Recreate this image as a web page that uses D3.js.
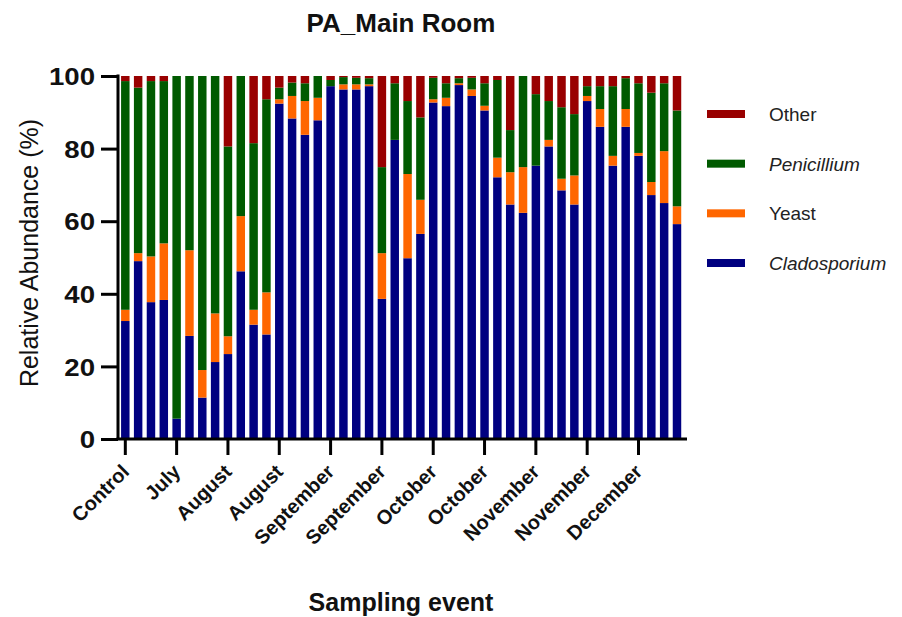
<!DOCTYPE html>
<html>
<head>
<meta charset="utf-8">
<script src="https://cdn.jsdelivr.net/npm/d3@7"></script>
<style>
  html, body { margin: 0; padding: 0; background: #fff; }
  svg { display: block; font-family: "Liberation Sans", Arial, sans-serif; }
</style>
</head>
<body>
<svg id="chart" width="902" height="617"></svg>
<script>
// Relative abundance (%) per sampling event, PA main room
const cladosporium = [32.5, 49.0, 37.7, 38.3, 5.6, 28.4, 11.4, 21.2, 23.4, 46.2, 31.5, 28.8,
  92.4, 88.3, 83.8, 87.8, 97.2, 96.3, 96.3, 97.2, 38.6, 82.4, 49.8, 56.5,
  92.7, 91.7, 97.5, 94.5, 90.5, 72.1, 64.6, 62.3, 75.3, 80.6, 68.5, 64.6,
  93.1, 86.0, 75.3, 86.0, 78.0, 67.2, 65.0, 59.2];
const yeast = [3.1, 2.2, 12.6, 15.6, 0, 23.6, 7.6, 13.4, 4.9, 15.2, 4.1, 11.6,
  1.2, 6.2, 9.3, 6.2, 0, 1.4, 1.4, 0.5, 12.6, 0, 23.2, 9.4,
  0.9, 2.3, 0.5, 1.8, 1.3, 5.4, 8.9, 12.6, 0, 1.8, 3.2, 8.0,
  1.4, 4.9, 2.7, 4.9, 0.8, 3.6, 14.3, 4.9];
const penicillium = [63.0, 45.6, 48.3, 44.7, 94.4, 48.0, 81.0, 65.4, 52.3, 38.6, 45.9, 53.2,
  3.2, 3.7, 4.9, 6.0, 1.7, 2.0, 1.8, 1.7, 23.7, 15.6, 20.1, 22.7,
  5.9, 4.0, 1.4, 3.2, 6.2, 21.4, 11.6, 25.1, 19.7, 10.7, 19.7, 16.9,
  2.7, 6.3, 19.2, 8.5, 19.2, 24.6, 18.7, 26.4];
const other = [1.4, 3.2, 1.4, 1.4, 0, 0, 0, 0, 19.4, 0, 18.5, 6.4,
  3.2, 1.8, 2.0, 0, 1.1, 0.3, 0.5, 0.6, 25.1, 2.0, 6.9, 11.4,
  0.5, 2.0, 0.6, 0.5, 2.0, 1.1, 14.9, 0, 5.0, 6.9, 8.6, 10.5,
  2.8, 2.8, 2.8, 0.6, 2.0, 4.6, 2.0, 9.5];

// Labelled sampling events (one label every 4 events)
const tickLabels = ["Control", "July", "August", "August", "September", "September",
  "October", "October", "November", "November", "December"];
const labelEvery = 4;
const yTicks = [0, 20, 40, 60, 80, 100];

const taxa = ["Cladosporium", "Yeast", "Penicillium", "Other"];
const taxaValues = [cladosporium, yeast, penicillium, other];
const taxaColors = ["#000080", "#ff6600", "#005a00", "#990000"];
const italicTaxa = ["Cladosporium", "Penicillium"];

const events = d3.range(cladosporium.length);
const table = events.map(i => {
  const row = { event: i };
  taxa.forEach((t, k) => { row[t] = taxaValues[k][i]; });
  return row;
});

const svg = d3.select("#chart");

const axisLeftX = 118, axisRightX = 687;
const y0 = 439, y1 = 76;

const x = d3.scaleBand()
  .domain(events)
  .range([axisLeftX, 684.3])
  .paddingInner(0.34)
  .paddingOuter(0.24);

const y = d3.scaleLinear().domain([0, 100]).range([y0, y1]);

const stack = d3.stack().keys(taxa);
const series = stack(table);

const color = d3.scaleOrdinal().domain(taxa).range(taxaColors);

// stacked bars
svg.append("g")
  .selectAll("g")
  .data(series)
  .join("g")
  .attr("fill", d => color(d.key))
  .selectAll("rect")
  .data(d => d)
  .join("rect")
  .attr("x", d => x(d.data.event))
  .attr("width", x.bandwidth())
  .attr("y", d => y(d[1]))
  .attr("height", d => Math.max(0, y(d[0]) - y(d[1])));

// y axis
const yAxis = svg.append("g")
  .attr("transform", `translate(${axisLeftX},0)`)
  .call(d3.axisLeft(y).tickValues(yTicks).tickSize(17).tickPadding(5));
yAxis.select(".domain").attr("stroke-width", 3).attr("d", `M0,${y1 - 1.5}V${y0}`);
yAxis.selectAll(".tick line").attr("stroke-width", 3);
yAxis.selectAll(".tick text")
  .attr("font-size", 24)
  .attr("font-weight", "bold")
  .attr("fill", "#111")
  .attr("x", -20)
  .attr("dy", "0.36em")
  .attr("transform", "scale(1.15,1)");

// x axis with labels on every 4th event
const tickEvents = events.filter(i => i % labelEvery === 0);
const xAxis = svg.append("g")
  .attr("transform", `translate(0,${y0})`)
  .call(d3.axisBottom(x).tickValues(tickEvents).tickSize(16)
    .tickFormat(i => tickLabels[i / labelEvery]));
xAxis.select(".domain").remove();
xAxis.append("line")
  .attr("x1", axisLeftX - 1.5).attr("x2", axisRightX)
  .attr("stroke", "#000").attr("stroke-width", 3);
xAxis.selectAll(".tick line").attr("stroke-width", 3);
xAxis.selectAll(".tick text")
  .attr("font-size", 20)
  .attr("font-weight", "bold")
  .attr("fill", "#111")
  .attr("text-anchor", "end")
  .attr("dy", null)
  .attr("y", null)
  .attr("transform", "translate(5,34) rotate(-45)");

// titles
svg.append("text")
  .attr("x", 401).attr("y", 32)
  .attr("text-anchor", "middle")
  .attr("font-size", 26).attr("font-weight", "bold").attr("fill", "#111")
  .text("PA_Main Room");

svg.append("text")
  .attr("x", 401).attr("y", 611)
  .attr("text-anchor", "middle")
  .attr("font-size", 25).attr("font-weight", "bold").attr("fill", "#111")
  .text("Sampling event");

svg.append("text")
  .attr("transform", "translate(38,253) rotate(-90)")
  .attr("text-anchor", "middle")
  .attr("font-size", 25).attr("fill", "#111")
  .text("Relative Abundance (%)");

// legend, top entry is the top of the stack
const legendTaxa = taxa.slice().reverse();
const legend = svg.append("g");
const legendY = d3.scalePoint().domain(legendTaxa).range([114, 263]);
const item = legend.selectAll("g")
  .data(legendTaxa)
  .join("g")
  .attr("transform", d => `translate(0,${legendY(d)})`);
item.append("rect")
  .attr("x", 707).attr("y", -4)
  .attr("width", 38).attr("height", 8)
  .attr("fill", d => color(d));
item.append("text")
  .attr("x", 769).attr("y", 7)
  .attr("font-size", 19)
  .attr("fill", "#222")
  .attr("font-style", d => italicTaxa.includes(d) ? "italic" : "normal")
  .text(d => d);
</script>
</body>
</html>
